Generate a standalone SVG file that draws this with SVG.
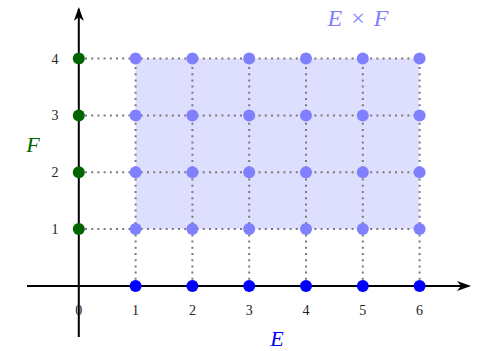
<svg xmlns="http://www.w3.org/2000/svg" width="479" height="351" viewBox="0 0 479 351">
<style>
.grid{stroke:#7a7a7a;stroke-width:2;stroke-dasharray:2 4.2;fill:none}
.axis{stroke:#000;stroke-width:2;fill:none}
.tick{font-family:"Liberation Serif",serif;font-size:14px;fill:#222;text-anchor:middle}
.lbl{font-family:"Liberation Serif",serif;font-style:italic;font-size:22px;text-anchor:middle}
.pe{fill:#0000ff}
.pf{fill:#006400}
.pp{fill:#8080ff}
</style>
<defs>
<marker id="ah" viewBox="0 0 14 10" refX="12" refY="5" markerWidth="14" markerHeight="10" markerUnits="userSpaceOnUse" orient="auto">
<path d="M0,0 L14,5 L0,10 L4,5 Z" fill="#000"/>
</marker>
</defs>
<rect x="135.6" y="58.6" width="283.2" height="170.4" fill="#dedeff"/>
<g id="connectors">
<path class="grid" d="M78.8,229 H418.8 M78.8,172.2 H418.8 M78.8,115.4 H418.8 M78.8,58.6 H418.8"/>
<path class="grid" d="M135.6,286 V58.6 M192.4,286 V58.6 M249.2,286 V58.6 M306,286 V58.6 M362.8,286 V58.6 M419.6,286 V58.6"/>
<line class="axis" x1="27" y1="286" x2="469" y2="286" marker-end="url(#ah)"/>
<line class="axis" x1="78.8" y1="337" x2="78.8" y2="9" marker-end="url(#ah)"/>
</g>
<g id="ticks">
<text class="tick" x="78.8" y="315">0</text>
<text class="tick" x="135.6" y="315">1</text>
<text class="tick" x="192.4" y="315">2</text>
<text class="tick" x="249.2" y="315">3</text>
<text class="tick" x="306" y="315">4</text>
<text class="tick" x="362.8" y="315">5</text>
<text class="tick" x="419.6" y="315">6</text>
<text class="tick" x="55" y="234">1</text>
<text class="tick" x="55" y="177.2">2</text>
<text class="tick" x="55" y="120.4">3</text>
<text class="tick" x="55" y="63.6">4</text>
</g>
<g id="E">
<circle class="pe" cx="135.6" cy="286" r="6"/>
<circle class="pe" cx="192.4" cy="286" r="6"/>
<circle class="pe" cx="249.2" cy="286" r="6"/>
<circle class="pe" cx="306" cy="286" r="6"/>
<circle class="pe" cx="362.8" cy="286" r="6"/>
<circle class="pe" cx="419.6" cy="286" r="6"/>
<text class="lbl" x="277" y="346" fill="#0000ff">E</text>
</g>
<g id="F">
<circle class="pf" cx="78.8" cy="229" r="6"/>
<circle class="pf" cx="78.8" cy="172.2" r="6"/>
<circle class="pf" cx="78.8" cy="115.4" r="6"/>
<circle class="pf" cx="78.8" cy="58.6" r="6"/>
<text class="lbl" x="33" y="152" fill="#006400">F</text>
</g>
<g id="ExF">
<g class="pp">
<circle cx="135.6" cy="229" r="6"/><circle cx="192.4" cy="229" r="6"/><circle cx="249.2" cy="229" r="6"/><circle cx="306" cy="229" r="6"/><circle cx="362.8" cy="229" r="6"/><circle cx="419.6" cy="229" r="6"/>
<circle cx="135.6" cy="172.2" r="6"/><circle cx="192.4" cy="172.2" r="6"/><circle cx="249.2" cy="172.2" r="6"/><circle cx="306" cy="172.2" r="6"/><circle cx="362.8" cy="172.2" r="6"/><circle cx="419.6" cy="172.2" r="6"/>
<circle cx="135.6" cy="115.4" r="6"/><circle cx="192.4" cy="115.4" r="6"/><circle cx="249.2" cy="115.4" r="6"/><circle cx="306" cy="115.4" r="6"/><circle cx="362.8" cy="115.4" r="6"/><circle cx="419.6" cy="115.4" r="6"/>
<circle cx="135.6" cy="58.6" r="6"/><circle cx="192.4" cy="58.6" r="6"/><circle cx="249.2" cy="58.6" r="6"/><circle cx="306" cy="58.6" r="6"/><circle cx="362.8" cy="58.6" r="6"/><circle cx="419.6" cy="58.6" r="6"/>
</g>
<text x="358" y="26" fill="#8080ff" font-family="Liberation Serif,serif" font-size="24px" text-anchor="middle" word-spacing="3"><tspan font-style="italic">E</tspan> × <tspan font-style="italic">F</tspan></text>
</g>
</svg>
